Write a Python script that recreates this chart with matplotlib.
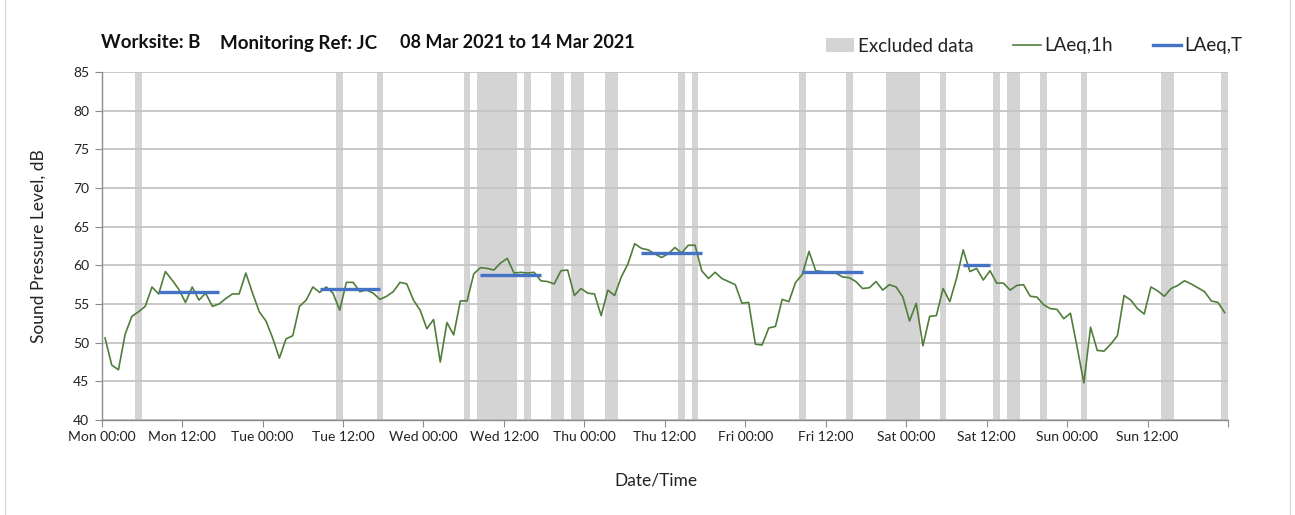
import numpy as np
import matplotlib
matplotlib.use('Agg')
import matplotlib.pyplot as plt
from matplotlib.lines import Line2D
from matplotlib.patches import Patch, Rectangle

plt.rcParams['font.family'] = ['Lato', 'DejaVu Sans']

# hourly LAeq,1h values, Mon 00:00 .. Sun 23:00
laeq_1h = [
    50.6, 47.1, 46.5, 51.1, 53.4, 54.0, 54.7, 57.2, 56.3, 59.2, 58.1, 56.9,
    55.2, 57.2, 55.5, 56.4, 54.7, 55.0, 55.7, 56.3, 56.3, 59.0, 56.4, 54.0,
    52.8, 50.6, 48.0, 50.5, 50.9, 54.7, 55.5, 57.2, 56.5, 57.2, 56.4, 54.2,
    57.8, 57.8, 56.6, 56.8, 56.4, 55.6, 56.0, 56.6, 57.8, 57.6, 55.5, 54.2,
    51.8, 53.0, 47.5, 52.6, 51.0, 55.4, 55.4, 58.9, 59.7, 59.6, 59.4, 60.3,
    60.9, 59.0, 59.1, 59.0, 59.1, 58.0, 57.9, 57.6, 59.3, 59.4, 56.1, 57.0,
    56.4, 56.3, 53.5, 56.8, 56.1, 58.5, 60.2, 62.8, 62.2, 62.0, 61.5, 61.0,
    61.5, 62.3, 61.6, 62.6, 62.6, 59.3, 58.3, 59.1, 58.3, 57.9, 57.5, 55.1,
    55.2, 49.8, 49.7, 51.9, 52.1, 55.6, 55.3, 57.8, 58.8, 61.8, 59.3, 59.2,
    59.1, 59.0, 58.5, 58.4, 57.9, 57.0, 57.1, 57.9, 56.8, 57.5, 57.2, 55.9,
    52.8, 55.1, 49.6, 53.4, 53.5, 57.0, 55.3, 58.3, 62.0, 59.2, 59.6, 58.1,
    59.3, 57.7, 57.7, 56.8, 57.4, 57.5, 56.0, 55.9, 54.9, 54.4, 54.3, 53.1,
    53.8, 49.4, 44.8, 52.0, 49.0, 48.9, 49.8, 50.9, 56.1, 55.5, 54.4, 53.7,
    57.2, 56.7, 56.0, 57.0, 57.4, 58.0, 57.6, 57.1, 56.6, 55.4, 55.2, 53.9,
]

# LAeq,T periods: first hour, last hour, level
laeq_t_start = [8, 32, 56, 80, 104, 128]
laeq_t_end = [17, 41, 65, 89, 113, 132]
laeq_t_level = [56.6, 57.0, 58.75, 61.6, 59.1, 60.0]

# excluded hours
excluded_hours = [5, 35, 41, 54, 56, 57, 58, 59, 60, 61, 63, 67, 68, 70, 71,
                  75, 76, 86, 88, 104, 111, 117, 118, 119, 120, 121, 125,
                  133, 135, 136, 140, 146, 158, 159, 167]

days = ['Mon', 'Tue', 'Wed', 'Thu', 'Fri', 'Sat', 'Sun']
tick_labels = [d + ' ' + t for d in days for t in ['00:00', '12:00']] + ['']

W, H = 1295, 515
fig = plt.figure(figsize=(W / 100, H / 100), dpi=100)
ax = fig.add_axes([101.7 / W, 1 - 420 / H, (1228 - 101.7) / W, 348 / H])

hours = np.arange(len(laeq_1h)) + 0.5

for h in excluded_hours:
    ax.axvspan(h, h + 1, color='#d4d4d4', lw=0, zorder=0.2)

ax.plot(hours, laeq_1h, color='#507d3a', lw=1.2, zorder=3)
for s, e, lv in zip(laeq_t_start, laeq_t_end, laeq_t_level):
    ax.plot([s + 0.5, e + 0.5], [lv, lv], color='#4472c4', lw=2.4,
            solid_capstyle='butt', zorder=4)

ax.set_xlim(0, 168)
ax.set_ylim(40, 85)
ax.set_axisbelow(True)
ax.set_xticks(np.arange(0, 169, 12))
ax.set_xticklabels(tick_labels, fontsize=10, color='#222222')
ax.set_xticks(np.arange(0, 169, 24), minor=True)
ax.set_yticks(np.arange(40, 86, 5))
ax.tick_params(axis='y', labelsize=10, colors='#222222', length=5,
               color='#8c8c8c', pad=4)
ax.tick_params(axis='x', which='major', length=5, color='#8c8c8c', pad=3)
ax.tick_params(axis='x', which='minor', length=0)
ax.grid(axis='y', color='#c4c4c4', lw=1.3)
ax.grid(axis='x', which='minor', color='#dedede', lw=1.0)
ax.grid(axis='x', which='major', visible=False)
for side in ['top', 'right']:
    ax.spines[side].set_visible(False)
for side in ['left', 'bottom']:
    ax.spines[side].set_color('#8c8c8c')
    ax.spines[side].set_linewidth(1.0)

ax.set_ylabel('Sound Pressure Level, dB', fontsize=12.5, color='#222222',
              labelpad=19)
fig.text(656 / W, 1 - 481 / H, 'Date/Time', fontsize=12.5, color='#222222',
         ha='center', va='center')

# title pieces
fig.text(101 / W, 1 - 43 / H, 'Worksite: B', fontsize=13.5, fontweight='bold',
         color='#111111', va='center')
fig.text(220 / W, 1 - 43 / H, 'Monitoring Ref: JC', fontsize=13.5,
         fontweight='bold', color='#111111', va='center')
fig.text(400 / W, 1 - 43 / H, '08 Mar 2021 to 14 Mar 2021', fontsize=13,
         fontweight='bold', color='#111111', va='center')

handles = [Patch(facecolor='#d4d4d4', edgecolor='none'),
           Line2D([], [], color='#507d3a', lw=1.2),
           Line2D([], [], color='#4472c4', lw=2.4)]
fig.legend(handles, ['Excluded data', 'LAeq,1h', 'LAeq,T'],
           loc='center left', bbox_to_anchor=(826 / W, 1 - 46 / H),
           ncol=3, frameon=False, fontsize=13.5, handlelength=1.5,
           handletextpad=0.2, columnspacing=2.1, borderaxespad=0,
           borderpad=0, labelcolor='#222222')

# outer frame
fig.patches.append(Rectangle((5 / W, -0.01), (1290 - 5) / W, 1.02,
                             transform=fig.transFigure, fill=False,
                             edgecolor='#d9d9d9', lw=1.0))

fig.savefig('out.png', dpi=100)
